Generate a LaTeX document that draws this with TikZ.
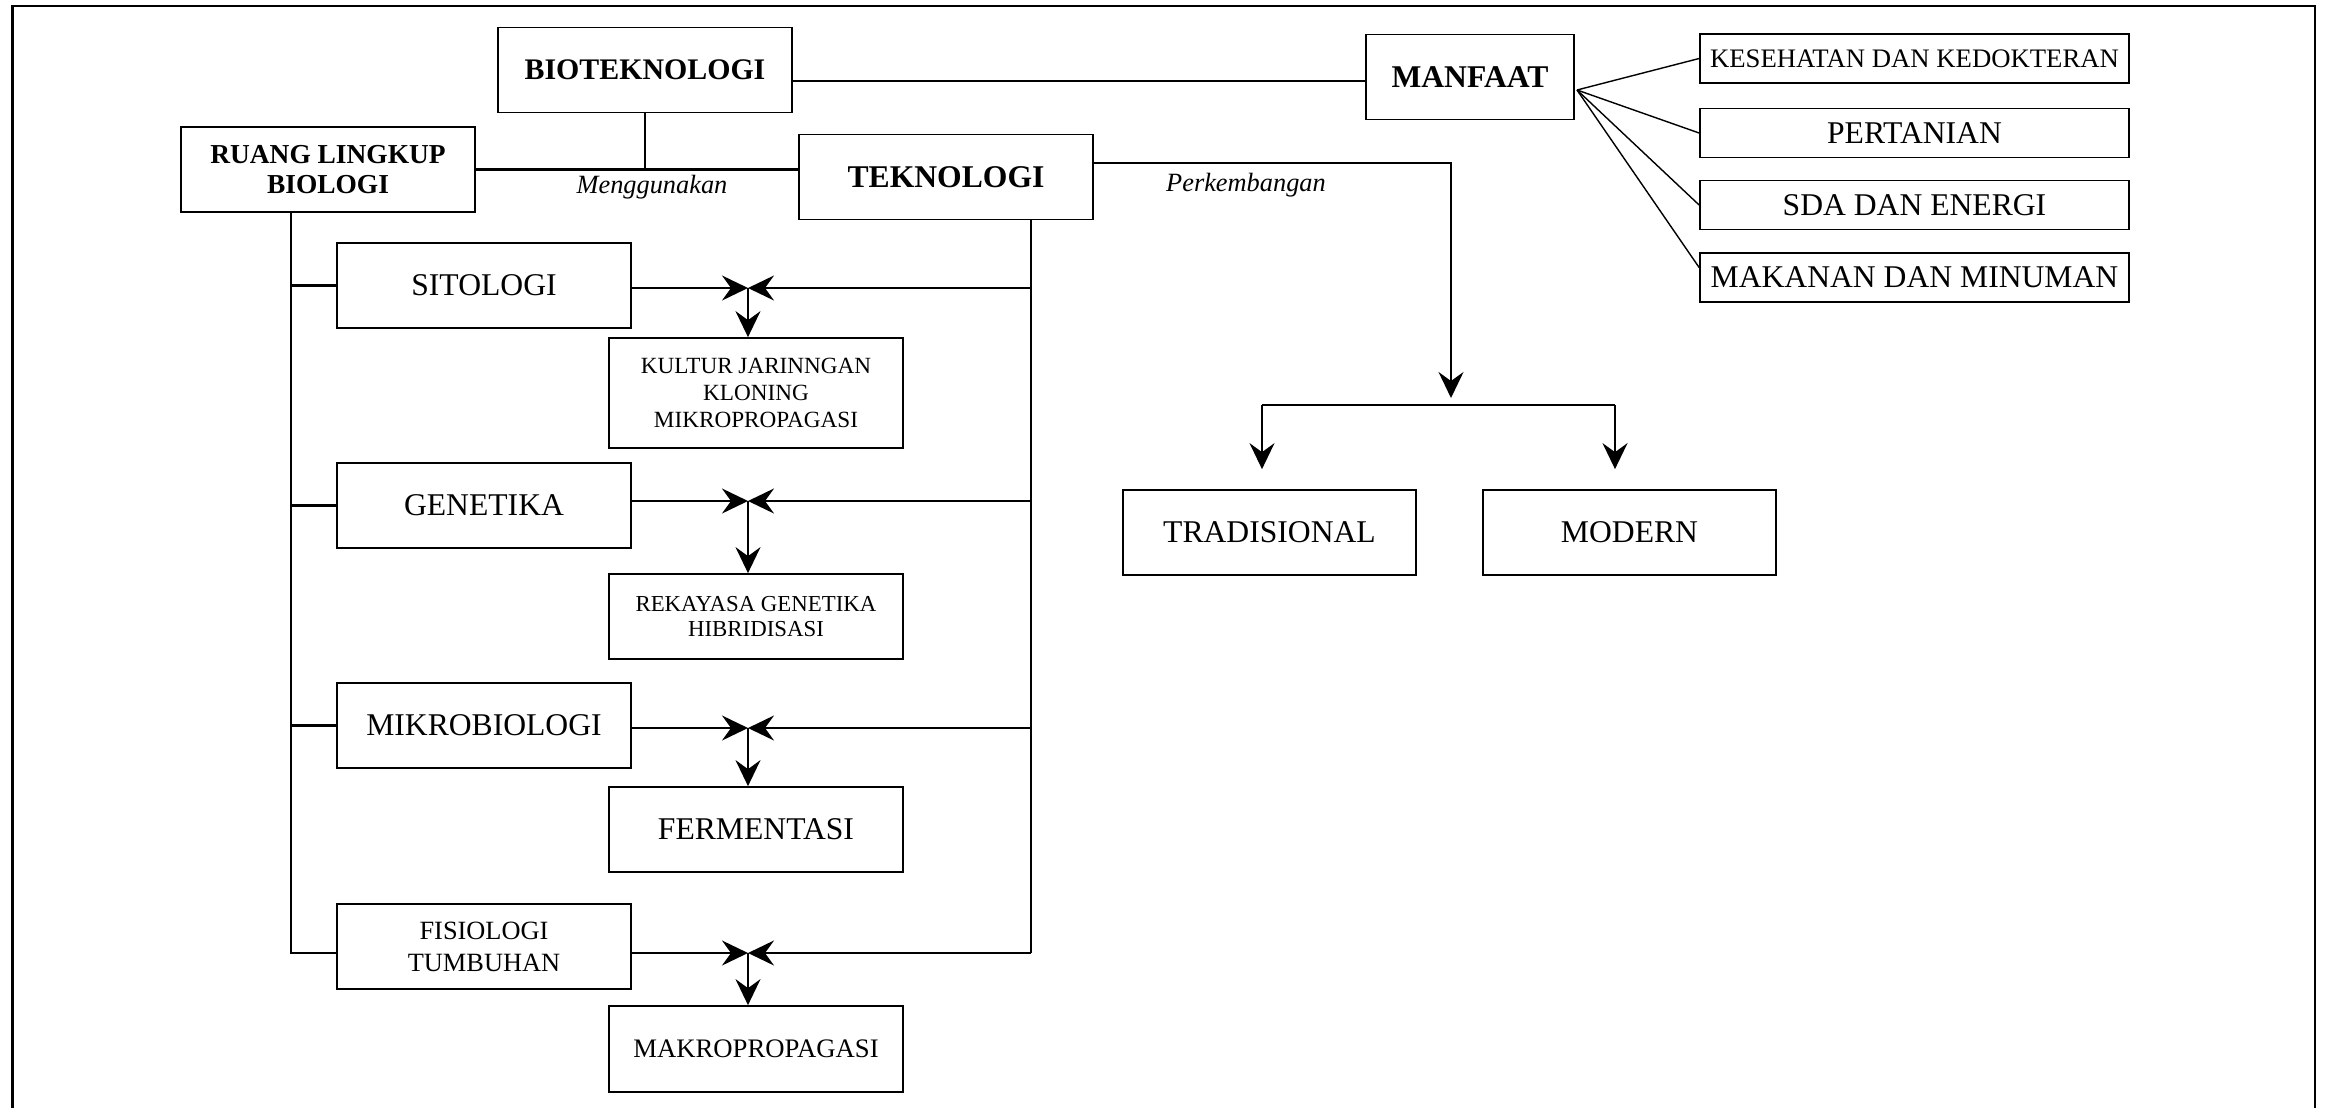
\documentclass[tikz,border=0pt]{standalone}
\usepackage{fontspec}
\setmainfont{Liberation Serif}
\usetikzlibrary{arrows.meta}

\tikzset{
  box/.style={draw, line width=0.5pt, inner sep=0pt, align=center,
    minimum width=2.94cm, minimum height=0.85cm},
  conn/.style={line width=0.6pt},
  arr/.style={conn, -{Stealth[length=2.6mm, width=2.5mm, inset=0.9mm]}},
  bigtext/.style={font=\fontsize{9}{10.5}\selectfont},
  midtext/.style={font=\fontsize{7.6}{9}\selectfont},
  smalltext/.style={font=\fontsize{6.6}{7.8}\selectfont},
  titletext/.style={font=\fontsize{9}{10}\selectfont\bfseries},
  ital/.style={font=\fontsize{7.5}{9}\selectfont\itshape, inner sep=0pt, anchor=base},
}

\begin{document}
\begin{tikzpicture}
  \useasboundingbox (0,0) rectangle (23.29,-11.08);
  \draw[line width=0.8pt] (0.127,-11.08) -- (0.127,-0.06) -- (23.15,-0.06) -- (23.15,-11.08);

  % top part
  \node[box, titletext, font=\fontsize{8.5}{10}\selectfont\bfseries] (bio) at (6.45,-0.70) {BIOTEKNOLOGI};
  \node[box, titletext, minimum width=2.08cm] (manfaat) at (14.70,-0.77) {MANFAAT};
  \node[box, font=\fontsize{7.8}{8.6}\selectfont\bfseries] (ruang) at (3.28,-1.695) {RUANG LINGKUP\\BIOLOGI};
  \node[box, titletext] (tek) at (9.46,-1.77) {TEKNOLOGI};

  \node[box, midtext, minimum width=4.29cm, minimum height=0.49cm] (kes) at (19.145,-0.585) {KESEHATAN DAN KEDOKTERAN};
  \node[box, bigtext, minimum width=4.29cm, minimum height=0.49cm] (per) at (19.145,-1.33) {PERTANIAN};
  \node[box, bigtext, minimum width=4.29cm, minimum height=0.49cm] (sda) at (19.145,-2.05) {SDA DAN ENERGI};
  \node[box, bigtext, minimum width=4.29cm, minimum height=0.49cm] (mak) at (19.145,-2.775) {MAKANAN DAN MINUMAN};

  \draw[conn] (bio.east |- 0,-0.81) -- (manfaat.west |- 0,-0.81);
  \draw[conn] (bio.south) -- (bio.south |- ruang.east);
  \draw[conn] (ruang.east) -- (ruang.east -| tek.west);
  \node[ital] (mengg) at (6.52,-1.93) {Menggunakan};

  \coordinate (mf) at (15.77,-0.90);
  \draw[line width=0.4pt] (mf) -- (kes.west);
  \draw[line width=0.4pt] (mf) -- (per.west);
  \draw[line width=0.4pt] (mf) -- (sda.west);
  \draw[line width=0.4pt] (mf) -- ([yshift=1mm]mak.west);

  % perkembangan
  \node[box, bigtext, minimum width=2.93cm] (trad) at (12.695,-5.325) {TRADISIONAL};
  \node[box, bigtext, minimum width=2.93cm] (modern) at (16.295,-5.325) {MODERN};
  \coordinate (perk) at (14.51,-3.98);
  \coordinate (fl) at (12.62,-4.05);
  \coordinate (fr) at (16.15,-4.05);
  \draw[arr] (tek.east |- 0,-1.63) -| (perk);
  \node[ital] (perklbl) at (12.46,-1.91) {Perkembangan};
  \draw[conn] (fl) -- (fr);
  \draw[arr, shorten >=2mm] (fl) -- (fl |- trad.north);
  \draw[arr, shorten >=2mm] (fr) -- (fr |- modern.north);

  % ruang lingkup biologi
  \node[box, bigtext] (sito) at (4.84,-2.855) {SITOLOGI};
  \node[box, bigtext] (gen) at (4.84,-5.055) {GENETIKA};
  \node[box, bigtext] (mikro) at (4.84,-7.255) {MIKROBIOLOGI};
  \node[box, midtext, font=\fontsize{7.5}{9.1}\selectfont] (fisio) at (4.84,-9.465) {FISIOLOGI\\TUMBUHAN};

  \node[box, smalltext, minimum height=1.10cm] (kultur) at (7.56,-3.93) {KULTUR JARINNGAN\\KLONING\\MIKROPROPAGASI};
  \node[box, smalltext, font=\fontsize{6.5}{7.1}\selectfont] (rek) at (7.56,-6.165) {REKAYASA GENETIKA\\HIBRIDISASI};
  \node[box, bigtext] (ferm) at (7.56,-8.295) {FERMENTASI};
  \node[box, midtext, minimum height=0.86cm] (makro) at (7.56,-10.49) {MAKROPROPAGASI};

  \coordinate (lt) at (2.91,-9.53);
  \coordinate (rt) at (10.31,-9.53);
  \draw[conn] (ruang.south -| lt) -- (lt) -- (lt -| fisio.west);
  \draw[conn] (sito.west -| lt) -- (sito.west);
  \draw[conn] (gen.west -| lt) -- (gen.west);
  \draw[conn] (mikro.west -| lt) -- (mikro.west);
  \draw[conn] (tek.south -| rt) -- (rt);

  \coordinate (j1) at (7.48,-2.88);
  \coordinate (j2) at (7.48,-5.01);
  \coordinate (j3) at (7.48,-7.28);
  \coordinate (j4) at (7.48,-9.53);
  \draw[arr] (sito.east |- j1) -- (j1);
  \draw[arr] (rt |- j1) -- (j1);
  \draw[arr] (j1) -- (j1 |- kultur.north);
  \draw[arr] (gen.east |- j2) -- (j2);
  \draw[arr] (rt |- j2) -- (j2);
  \draw[arr] (j2) -- (j2 |- rek.north);
  \draw[arr] (mikro.east |- j3) -- (j3);
  \draw[arr] (rt |- j3) -- (j3);
  \draw[arr] (j3) -- (j3 |- ferm.north);
  \draw[arr] (fisio.east |- j4) -- (j4);
  \draw[arr] (rt) -- (j4);
  \draw[arr] (j4) -- (j4 |- makro.north);
\end{tikzpicture}
\end{document}
